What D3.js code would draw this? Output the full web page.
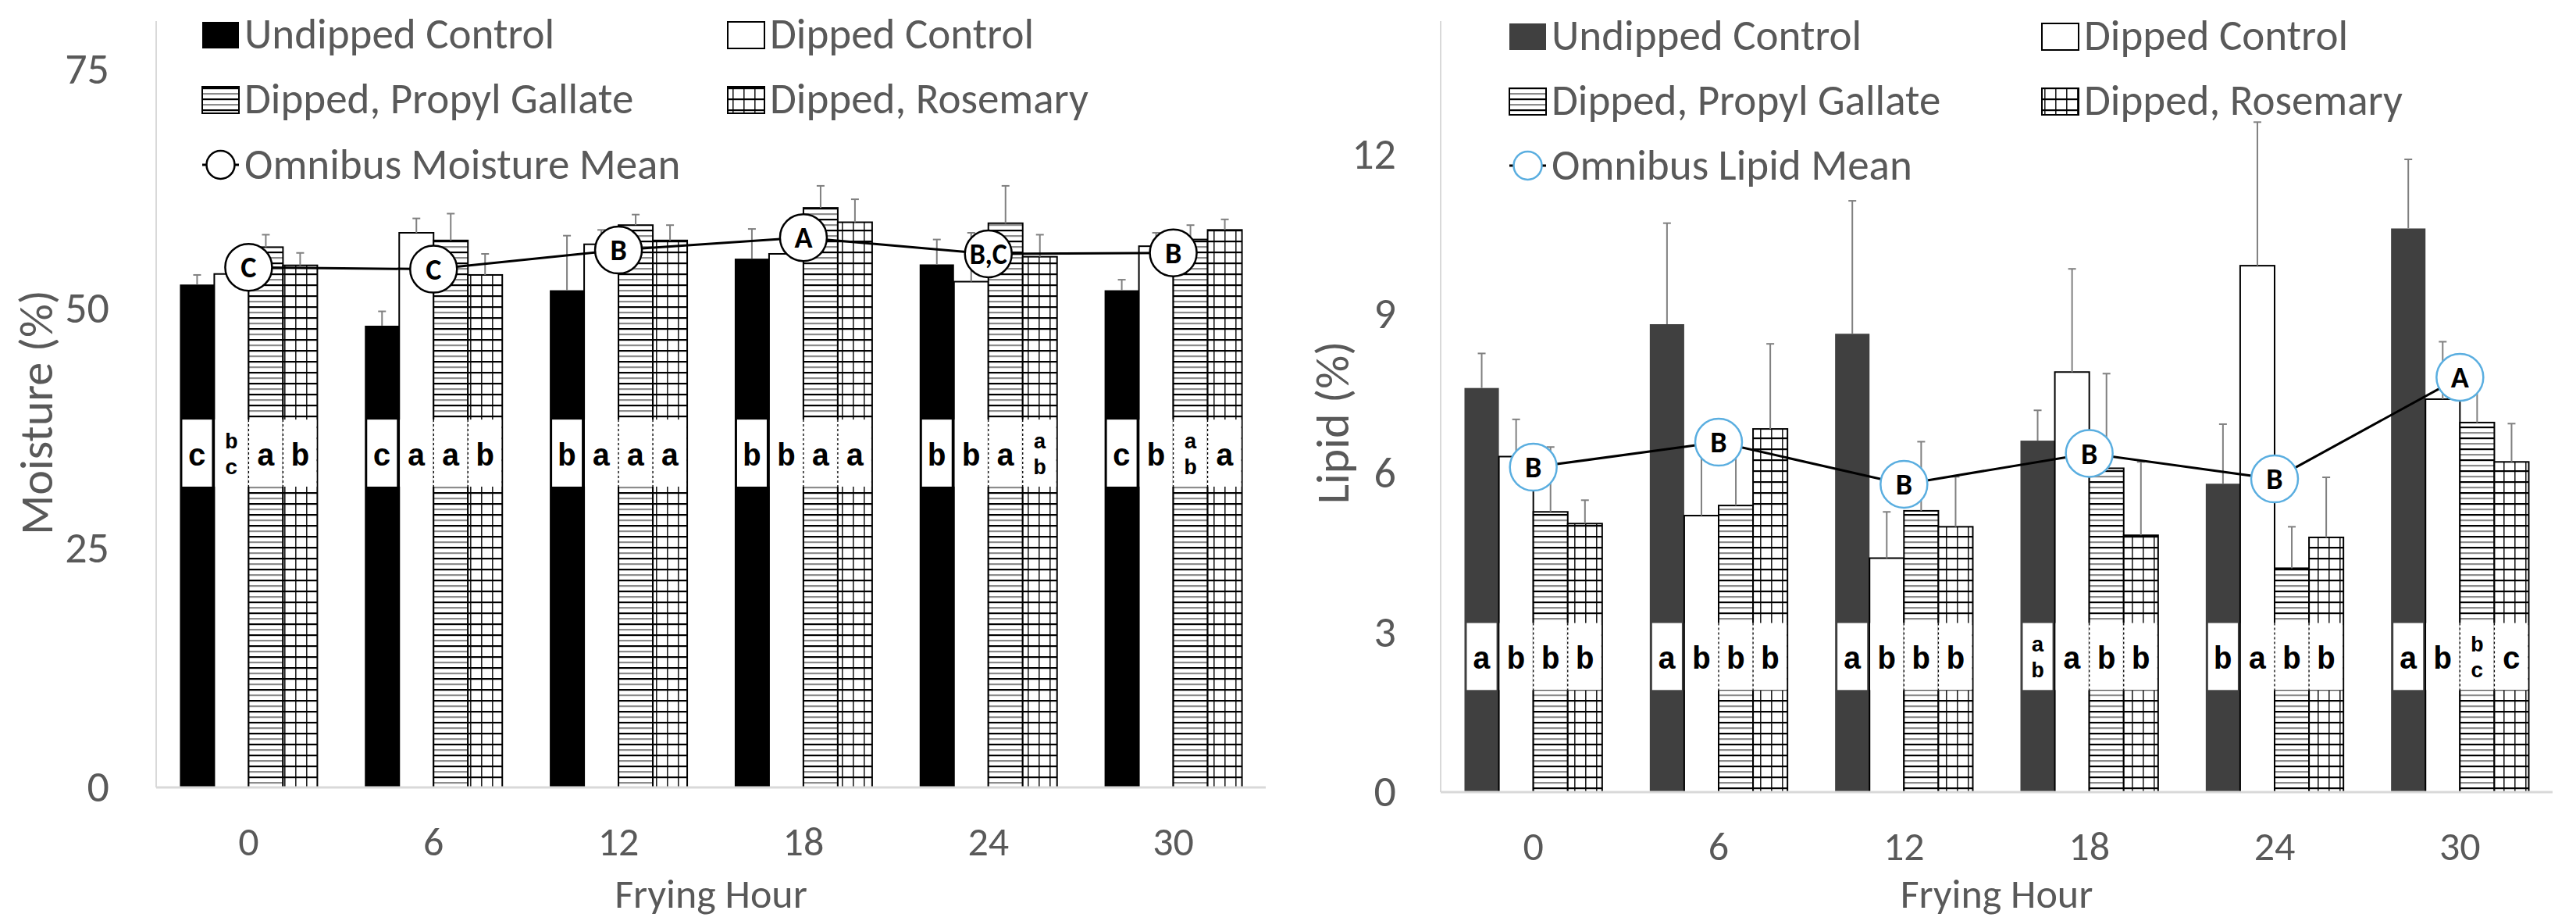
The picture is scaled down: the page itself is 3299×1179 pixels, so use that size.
<!DOCTYPE html>
<html>
<head>
<meta charset="utf-8">
<script src="https://cdnjs.cloudflare.com/ajax/libs/d3/7.8.5/d3.min.js"></script>
<style>
  body { margin: 0; background: #fff; }
  svg text { font-family: Carlito, Lato, "Liberation Sans", sans-serif; }
  svg text.grp { font-family: "Liberation Mono", "Courier New", "Nimbus Mono PS", monospace; font-weight: bold; }
</style>
</head>
<body>
<svg id="chart" width="3299" height="1179"></svg>
<script>
"use strict";

// Categories ////////////////////////////////////////////
var hours = ["0", "6", "12", "18", "24", "30"];
var treatments = ["Undipped Control", "Dipped Control", "Dipped, Propyl Gallate", "Dipped, Rosemary"];

// Moisture (%) //////////////////////////////////////////
var moistUndipped   = [52.5, 48.2, 51.9, 55.2, 54.6, 51.9];
var moistDipped     = [53.6, 57.9, 56.7, 55.7, 52.8, 56.5];
var moistGallate    = [56.4, 57.1, 58.7, 60.5, 58.9, 57.2];
var moistRosemary   = [54.5, 53.5, 57.1, 59.0, 55.4, 58.2];
var moistUndippedErr = [1.0, 1.5, 5.7, 3.1, 2.6, 1.1];
var moistDippedErr   = [1.0, 1.5, 1.5, 1.5, 5.1, 1.4];
var moistGallateErr  = [1.3, 2.8, 1.1, 2.3, 3.9, 1.5];
var moistRosemaryErr = [1.3, 2.2, 1.6, 2.4, 2.3, 1.1];
var moistMean        = [54.3, 54.1, 56.1, 57.4, 55.7, 55.8];
var moistMeanLetters = ["C", "C", "B", "A", "B,C", "B"];
var moistUndippedLetters = ["c", "c", "b", "b", "b", "c"];
var moistDippedLetters   = ["bc", "a", "a", "b", "b", "b"];
var moistGallateLetters  = ["a", "a", "a", "a", "a", "ab"];
var moistRosemaryLetters = ["b", "b", "a", "a", "ab", "a"];
var moistTicks = [0, 25, 50, 75];

// Lipid (%) /////////////////////////////////////////////
var lipidUndipped   = [7.6, 8.8, 8.62, 6.61, 5.8, 10.6];
var lipidDipped     = [6.31, 5.2, 4.4, 7.9, 9.9, 7.39];
var lipidGallate    = [5.27, 5.39, 5.29, 6.09, 4.21, 6.95];
var lipidRosemary   = [5.05, 6.83, 4.99, 4.83, 4.79, 6.21];
var lipidUndippedErr = [0.65, 1.9, 2.5, 0.57, 1.12, 1.3];
var lipidDippedErr   = [0.7, 1.3, 0.87, 1.94, 2.7, 1.08];
var lipidGallateErr  = [1.22, 1.2, 1.3, 1.78, 0.78, 0.95];
var lipidRosemaryErr = [0.44, 1.6, 0.94, 1.38, 1.13, 0.72];
var lipidMean        = [6.11, 6.58, 5.79, 6.37, 5.89, 7.8];
var lipidMeanLetters = ["B", "B", "B", "B", "B", "A"];
var lipidUndippedLetters = ["a", "a", "a", "ab", "b", "a"];
var lipidDippedLetters   = ["b", "b", "b", "a", "a", "b"];
var lipidGallateLetters  = ["b", "b", "b", "b", "b", "bc"];
var lipidRosemaryLetters = ["b", "b", "b", "b", "b", "c"];
var lipidTicks = [0, 3, 6, 9, 12];

var app = {

  // Patterns //////////////////////////////////////////////
  defs: function(svg) {
  //////////////////////////////////////////////////////////
    var defs = svg.append("defs");

    var h = defs.append("pattern").attr("id", "hlines")
        .attr("patternUnits", "userSpaceOnUse").attr("width", 10).attr("height", 14);
    h.append("rect").attr("width", 10).attr("height", 14).attr("fill", "#fff");
    h.append("rect").attr("y", 0).attr("width", 10).attr("height", 2.2).attr("fill", "#000");
    h.append("rect").attr("y", 7).attr("width", 10).attr("height", 2.2).attr("fill", "#8c8c8c");

    var g = defs.append("pattern").attr("id", "grid")
        .attr("patternUnits", "userSpaceOnUse").attr("width", 14).attr("height", 14);
    g.append("rect").attr("width", 14).attr("height", 14).attr("fill", "#fff");
    g.append("rect").attr("x", 0).attr("width", 1.6).attr("height", 14).attr("fill", "#222");
    g.append("rect").attr("y", 0).attr("width", 14).attr("height", 2.2).attr("fill", "#000");
  },

  // One panel /////////////////////////////////////////////
  panel: function(svg, cfg) {
  //////////////////////////////////////////////////////////
    var g = svg.append("g");
    var fills = [cfg.firstColor, "#fff", "url(#hlines)", "url(#grid)"];

    var x = d3.scaleBand().domain(hours).range([cfg.left, cfg.right]);
    var gw = x.bandwidth() * 0.743;
    var xs = d3.scaleBand().domain(treatments).range([-gw / 2, gw / 2]);
    var bw = xs.bandwidth();
    var y = d3.scaleLinear().domain([0, cfg.max]).range([cfg.zero, cfg.top]);
    var cx = function(h) { return x(h) + x.bandwidth() / 2; };

    // flatten series into records
    var recs = [];
    treatments.forEach(function(t, ti) {
      hours.forEach(function(h, hi) {
        recs.push({ t: t, ti: ti, h: h, v: cfg.values[ti][hi], e: cfg.errors[ti][hi],
                    lab: cfg.letters[ti][hi] });
      });
    });

    // y axis line
    g.append("line")
        .attr("x1", cfg.left).attr("x2", cfg.left)
        .attr("y1", y(cfg.max)).attr("y2", y(0))
        .attr("stroke", "#d9d9d9").attr("stroke-width", 2);

    // bars
    g.selectAll(".bar").data(recs).enter()
        .append("rect")
        .attr("class", "bar")
        .attr("x", function(d) { return cx(d.h) + xs(d.t); })
        .attr("y", function(d) { return y(d.v); })
        .attr("width", bw)
        .attr("height", function(d) { return y(0) - y(d.v); })
        .attr("fill", function(d) { return fills[d.ti]; })
        .attr("stroke", function(d) { return d.ti === 0 ? "none" : "#000"; })
        .attr("stroke-width", 2);

    // letter boxes
    var yb0 = y(cfg.band[1]), yb1 = y(cfg.band[0]);
    g.selectAll(".box").data(recs).enter()
        .append("rect")
        .attr("class", "box")
        .attr("x", function(d) {
          var bx = cx(d.h) + xs(d.t);
          return d.ti === 0 ? bx + 3 : (d.ti === 1 ? bx + 1 : bx - 1);
        })
        .attr("y", yb0)
        .attr("width", function(d) { return d.ti === 0 ? bw - 6 : (d.ti === 1 ? bw - 2 : bw); })
        .attr("height", yb1 - yb0)
        .attr("fill", "#fff");

    g.selectAll(".dash").data(recs.filter(function(d) { return d.ti >= 2; })).enter()
        .append("line")
        .attr("class", "dash")
        .attr("x1", function(d) { return cx(d.h) + xs(d.t); })
        .attr("x2", function(d) { return cx(d.h) + xs(d.t); })
        .attr("y1", yb0).attr("y2", yb1)
        .attr("stroke", "#000").attr("stroke-width", 1.3)
        .attr("stroke-dasharray", "3,3");

    // letters (stacked pairs sit one above the other)
    var ym = (yb0 + yb1) / 2;
    recs.forEach(function(d) {
      var lx = cx(d.h) + xs(d.t) + bw / 2;
      var chars = d.lab.split("");
      chars.forEach(function(c, i) {
        var single = chars.length === 1;
        g.append("text")
            .attr("class", "grp")
            .attr("text-anchor", "middle")
            .attr("fill", "#000")
            .attr("x", lx)
            .attr("y", single ? ym + 3 : ym + (i === 0 ? -15 : 18))
            .attr("dy", "0.32em")
            .style("font-size", single ? "40px" : "28px")
            .text(c);
      });
    });

    // error bars
    var eb = g.selectAll(".err").data(recs).enter().append("g").attr("class", "err");
    eb.append("line")
        .attr("x1", function(d) { return cx(d.h) + xs(d.t) + bw / 2; })
        .attr("x2", function(d) { return cx(d.h) + xs(d.t) + bw / 2; })
        .attr("y1", function(d) { return y(d.v); })
        .attr("y2", function(d) { return y(d.v + d.e); })
        .attr("stroke", "#808080").attr("stroke-width", 2);
    eb.append("line")
        .attr("x1", function(d) { return cx(d.h) + xs(d.t) + bw / 2 - 5; })
        .attr("x2", function(d) { return cx(d.h) + xs(d.t) + bw / 2 + 5; })
        .attr("y1", function(d) { return y(d.v + d.e); })
        .attr("y2", function(d) { return y(d.v + d.e); })
        .attr("stroke", "#808080").attr("stroke-width", 2);

    // x baseline
    g.append("line")
        .attr("x1", cfg.left).attr("x2", cfg.right)
        .attr("y1", y(0)).attr("y2", y(0))
        .attr("stroke", "#d9d9d9").attr("stroke-width", 3);

    // omnibus mean line + circles
    var line = d3.line()
        .x(function(d, i) { return cx(hours[i]); })
        .y(function(d) { return y(d); });
    g.append("path").datum(cfg.means)
        .attr("d", line)
        .attr("fill", "none").attr("stroke", "#000").attr("stroke-width", 3);

    var mk = g.selectAll(".mean").data(cfg.means).enter().append("g").attr("class", "mean")
        .attr("transform", function(d, i) { return "translate(" + cx(hours[i]) + "," + y(d) + ")"; });
    mk.append("circle").attr("r", 30)
        .attr("fill", "#fff").attr("stroke", cfg.ring).attr("stroke-width", 2.5);
    mk.append("text")
        .attr("text-anchor", "middle").attr("dy", "0.35em")
        .style("font-weight", "bold").style("font-size", "38px")
        .attr("fill", "#000")
        .each(function(d, i) {
          var s = cfg.meanLetters[i];
          d3.select(this).text(s);
          if (s.length > 1) {
            d3.select(this).attr("textLength", 48).attr("lengthAdjust", "spacingAndGlyphs");
          }
        });

    // axes
    var yAxis = d3.axisLeft(y).tickValues(cfg.ticks).tickSize(0).tickPadding(cfg.tickPad);
    var ya = g.append("g").attr("transform", "translate(" + cfg.left + ",0)").call(yAxis);
    ya.select(".domain").remove();
    ya.attr("font-family", null).attr("font-size", null);
    ya.selectAll("text").style("font-size", "56px").attr("fill", "#595959");

    var xAxis = d3.axisBottom(x).tickSize(0).tickPadding(50);
    var xa = g.append("g").attr("transform", "translate(0," + y(0) + ")").call(xAxis);
    xa.select(".domain").remove();
    xa.attr("font-family", null).attr("font-size", null);
    xa.selectAll("text").style("font-size", "52px").attr("fill", "#595959");

    // titles
    g.append("text")
        .attr("transform", "translate(" + cfg.yTitleX + "," + cfg.yTitleY + ") rotate(-90)")
        .attr("text-anchor", "middle").attr("dy", "0.35em")
        .style("font-size", "60px").attr("fill", "#595959")
        .text(cfg.yTitle);
    g.append("text")
        .attr("x", (cfg.left + cfg.right) / 2).attr("y", 1162)
        .attr("text-anchor", "middle")
        .style("font-size", "52px").attr("fill", "#595959")
        .text("Frying Hour");

    // legend
    var cols = [cfg.legX[0], cfg.legX[0], cfg.legX[1], cfg.legX[1]];
    var rows = [0, 1, 0, 1];
    var order = [0, 2, 1, 3];
    order.forEach(function(ti, k) {
      var lx = cols[k], base = cfg.legY[rows[k]];
      g.append("rect")
          .attr("x", lx).attr("y", base - 34).attr("width", 47).attr("height", 34)
          .attr("fill", fills[ti])
          .attr("stroke", ti === 0 ? "none" : "#000").attr("stroke-width", 2);
      g.append("text")
          .attr("x", lx + 54).attr("y", base)
          .style("font-size", "55px").attr("fill", "#595959")
          .text(treatments[ti]);
    });
    var b3 = cfg.legY[2];
    g.append("line")
        .attr("x1", cfg.legX[0]).attr("x2", cfg.legX[0] + 47)
        .attr("y1", b3 - 18).attr("y2", b3 - 18)
        .attr("stroke", "#000").attr("stroke-width", 3);
    g.append("circle")
        .attr("cx", cfg.legX[0] + 23.5).attr("cy", b3 - 18).attr("r", 18)
        .attr("fill", "#fff").attr("stroke", cfg.ring).attr("stroke-width", 2.5);
    g.append("text")
        .attr("x", cfg.legX[0] + 54).attr("y", b3)
        .style("font-size", "55px").attr("fill", "#595959")
        .text(cfg.meanLabel);
  },

  //////////////////////////////////////////////////////////
  runApp: function() {
  //////////////////////////////////////////////////////////
    var svg = d3.select("#chart");
    svg.append("rect").attr("width", 3299).attr("height", 1179).attr("fill", "#fff");
    app.defs(svg);

    app.panel(svg, {
      left: 200, right: 1621, top: 27, zero: 1008, max: 80,
      ticks: moistTicks, tickPad: 60,
      values: [moistUndipped, moistDipped, moistGallate, moistRosemary],
      errors: [moistUndippedErr, moistDippedErr, moistGallateErr, moistRosemaryErr],
      letters: [moistUndippedLetters, moistDippedLetters, moistGallateLetters, moistRosemaryLetters],
      band: [31.4, 38.4],
      means: moistMean, meanLetters: moistMeanLetters,
      firstColor: "#000", ring: "#000",
      yTitle: "Moisture (%)", yTitleX: 46, yTitleY: 528,
      legX: [259, 932], legY: [62, 145, 229],
      meanLabel: "Omnibus Moisture Mean"
    });

    app.panel(svg, {
      left: 1845, right: 3269, top: 27, zero: 1014, max: 14.5,
      ticks: lipidTicks, tickPad: 57,
      values: [lipidUndipped, lipidDipped, lipidGallate, lipidRosemary],
      errors: [lipidUndippedErr, lipidDippedErr, lipidGallateErr, lipidRosemaryErr],
      letters: [lipidUndippedLetters, lipidDippedLetters, lipidGallateLetters, lipidRosemaryLetters],
      band: [1.92, 3.18],
      means: lipidMean, meanLetters: lipidMeanLetters,
      firstColor: "#404040", ring: "#5aaee0",
      yTitle: "Lipid (%)", yTitleX: 1706, yTitleY: 541,
      legX: [1933, 2615], legY: [64, 147, 230],
      meanLabel: "Omnibus Lipid Mean"
    });
  }

};

app.runApp();
</script>
</body>
</html>
